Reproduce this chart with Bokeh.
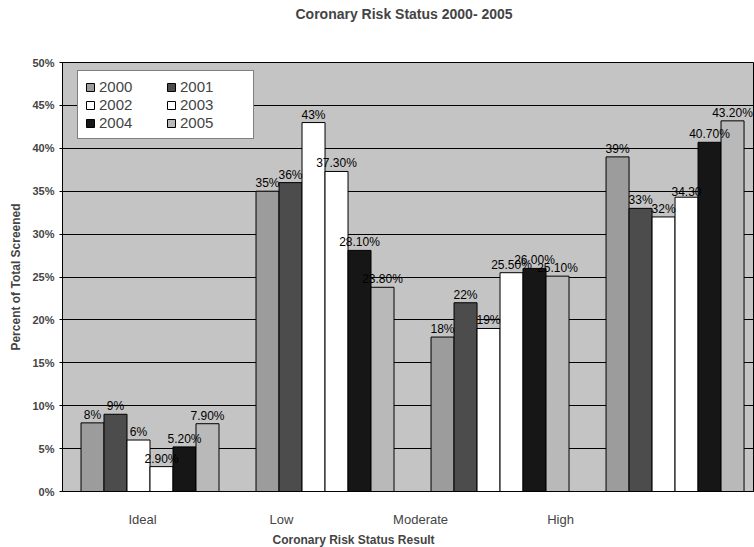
from bokeh.plotting import figure
from bokeh.models import (ColumnDataSource, LabelSet, Legend, LegendItem, Range1d,
                          FixedTicker, PrintfTickFormatter, Title)
from bokeh.core.properties import value
from bokeh.embed import file_html
from bokeh.resources import INLINE

# ---- data ----
categories = ["Ideal", "Low", "Moderate", "High"]
years = ["2000", "2001", "2002", "2003", "2004", "2005"]
v2000 = [8, 35, 18, 39]
v2001 = [9, 36, 22, 33]
v2002 = [6, 43, 19, 32]
v2003 = [2.9, 37.3, 25.5, 34.3]
v2004 = [5.2, 28.1, 26.0, 40.7]
v2005 = [7.9, 23.8, 25.1, 43.2]
l2000 = ["8%", "35%", "18%", "39%"]
l2001 = ["9%", "36%", "22%", "33%"]
l2002 = ["6%", "43%", "19%", "32%"]
l2003 = ["2.90%", "37.30%", "25.50%", "34.30"]
l2004 = ["5.20%", "28.10%", "26.00%", "40.70%"]
l2005 = ["7.90%", "23.80%", "25.10%", "43.20%"]
y_ticks = [0, 5, 10, 15, 20, 25, 30, 35, 40, 45, 50]

series = [v2000, v2001, v2002, v2003, v2004, v2005]
labels = [l2000, l2001, l2002, l2003, l2004, l2005]
colors = ["#9c9c9c", "#4c4c4c", "#ffffff", "#ffffff", "#161616", "#b9b9b9"]

FONT = "Liberation Sans"
bw = 0.1314

p = figure(width=754, height=547, output_backend="svg", toolbar_location=None,
           x_range=Range1d(0, 3.954), y_range=Range1d(0, 50),
           min_border_left=62, min_border_right=0, min_border_top=62, min_border_bottom=54)
p.background_fill_color = "#c4c4c4"
p.border_fill_color = "white"
p.outline_line_color = "black"
p.outline_line_width = 1

p.xgrid.visible = False
p.ygrid.grid_line_color = "black"
p.ygrid.grid_line_width = 1
p.ygrid.ticker = FixedTicker(ticks=y_ticks)

items = []
for j, (yr, vals, labs, col) in enumerate(zip(years, series, labels, colors)):
    xs = [i + 0.5 + (j - 2.5) * bw for i in range(len(categories))]
    src = ColumnDataSource(dict(x=xs, top=vals, text=labs))
    r = p.vbar(x="x", top="top", width=bw, source=src, fill_color=col,
               line_color="black", line_width=1)
    items.append(LegendItem(label=yr, renderers=[r]))
    p.add_layout(LabelSet(x="x", y="top", text="text", source=src,
                          text_align="center", text_baseline="bottom", y_offset=1,
                          text_font=value(FONT), text_font_size="12px", text_color="black"))

legend = Legend(items=items, orientation="horizontal", ncols=2, location=(15, 352),
                label_text_font=FONT, label_text_font_size="15px",
                glyph_width=10, glyph_height=10, label_standoff=4, label_height=14,
                label_width=66, spacing=1, padding=7, margin=0,
                background_fill_color="white", background_fill_alpha=1,
                border_line_color="black", border_line_width=1)
p.add_layout(legend, "center")

# axes
p.yaxis.ticker = FixedTicker(ticks=y_ticks)
p.yaxis.formatter = PrintfTickFormatter(format="%d%%")
p.yaxis.major_label_text_font = FONT
p.yaxis.major_label_text_font_size = "11px"
p.yaxis.major_label_text_font_style = "bold"
p.yaxis.major_tick_out = 3
p.yaxis.major_tick_in = 0
p.yaxis.minor_tick_line_color = None
p.yaxis.major_label_standoff = 5
p.yaxis.axis_label = "Percent of Total Screened"
p.yaxis.axis_label_text_font = FONT
p.yaxis.axis_label_text_font_size = "12px"
p.yaxis.axis_label_text_font_style = "bold"
p.yaxis.axis_label_standoff = 6

p.xaxis.ticker = FixedTicker(ticks=[0.457, 1.251, 2.046, 2.846])
p.xaxis.major_label_overrides = {0.457: "Ideal", 1.251: "Low", 2.046: "Moderate", 2.846: "High"}
p.xaxis.major_label_text_font = FONT
p.xaxis.major_label_text_font_size = "13px"
p.xaxis.major_tick_line_color = None
p.xaxis.minor_tick_line_color = None
p.xaxis.major_label_standoff = 14
p.xaxis.axis_line_color = "black"

p.title.text = "Coronary Risk Status 2000- 2005"
p.title.align = "left"
p.title.offset = 233
p.title.text_font = FONT
p.title.text_font_size = "14px"
p.title.text_font_style = "bold"
p.title.standoff = 0
p.add_layout(Title(text=" ", text_font_size="35px", standoff=0), "above")
p.add_layout(Title(text="Coronary Risk Status Result", align="left", offset=210,
                   text_font=FONT, text_font_size="12px", text_font_style="bold",
                   standoff=2), "below")

open("out.html", "w").write(file_html(p, INLINE))
